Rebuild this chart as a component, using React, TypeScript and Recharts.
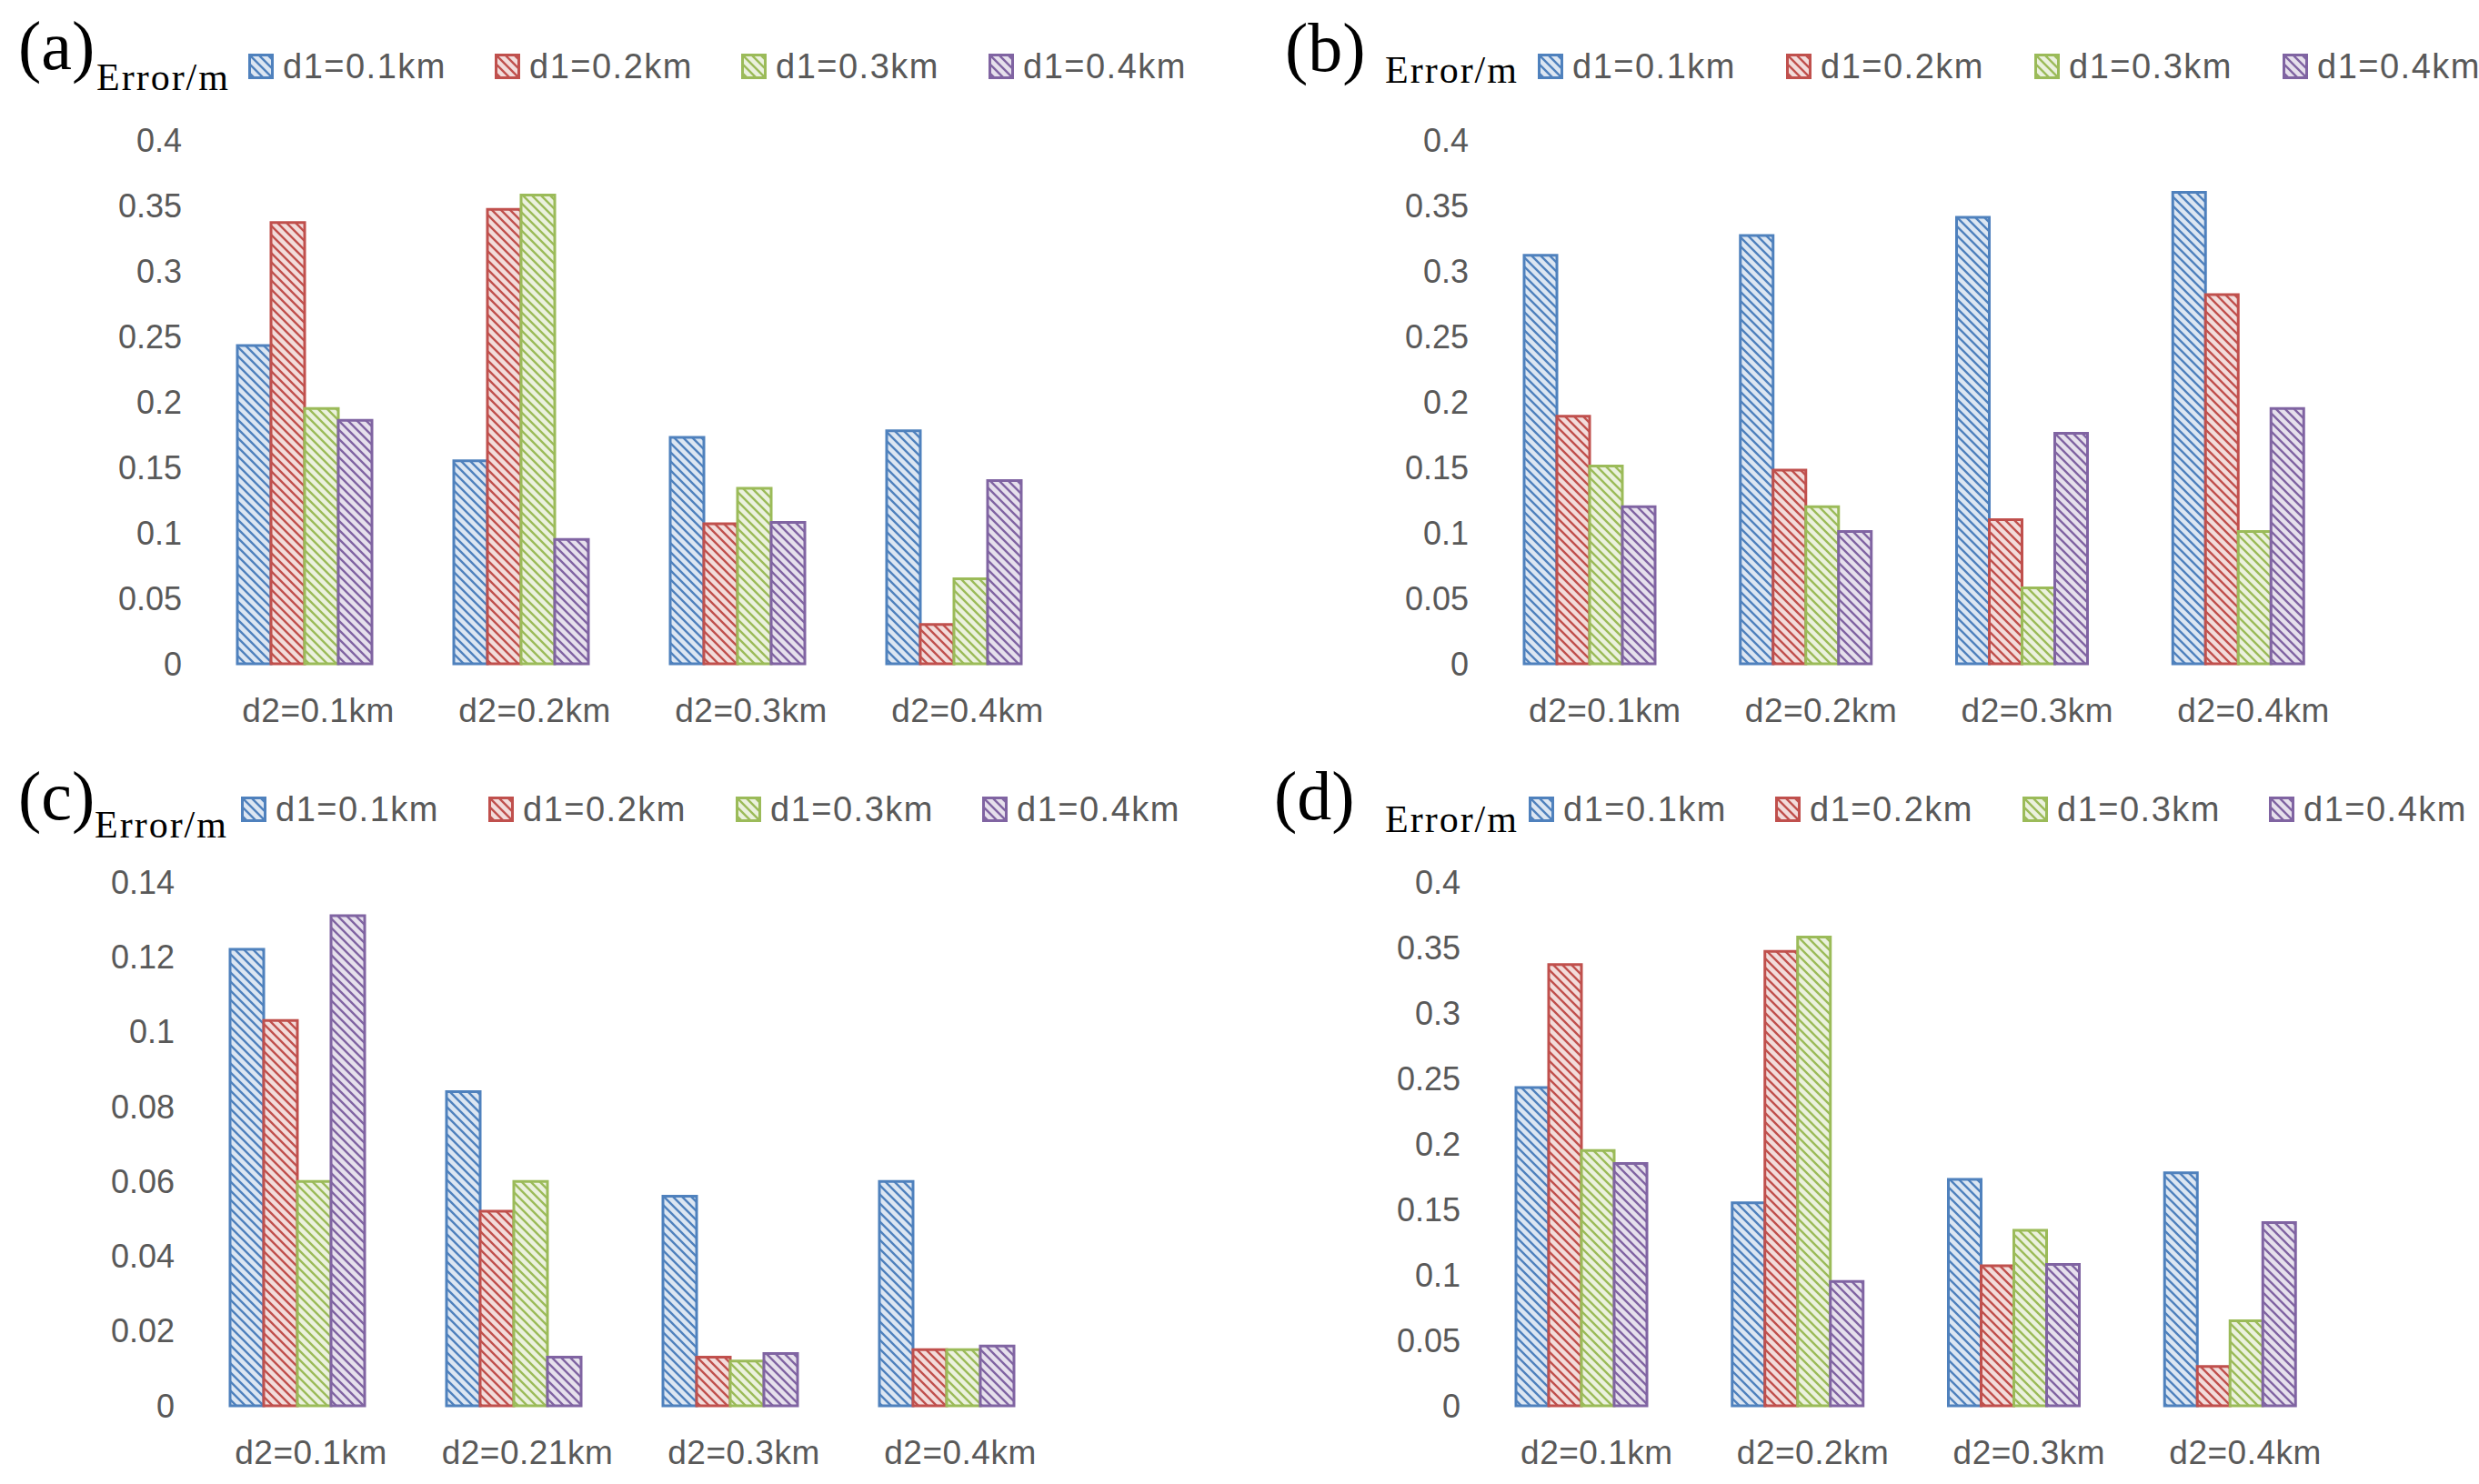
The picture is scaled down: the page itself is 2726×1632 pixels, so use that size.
import { BarChart, Bar, XAxis, YAxis } from 'recharts';

// series (d1) and categories (d2)
const seriesNames = ['d1=0.1km', 'd1=0.2km', 'd1=0.3km', 'd1=0.4km'];
const catsABD = ['d2=0.1km', 'd2=0.2km', 'd2=0.3km', 'd2=0.4km'];
const catsC = ['d2=0.1km', 'd2=0.21km', 'd2=0.3km', 'd2=0.4km'];

// panel (a)
const aD1 = [0.243, 0.155, 0.173, 0.178];
const aD2 = [0.337, 0.347, 0.107, 0.03];
const aD3 = [0.195, 0.358, 0.134, 0.065];
const aD4 = [0.186, 0.095, 0.108, 0.14];

// panel (b)
const bD1 = [0.312, 0.327, 0.341, 0.36];
const bD2 = [0.189, 0.148, 0.11, 0.282];
const bD3 = [0.151, 0.12, 0.058, 0.101];
const bD4 = [0.12, 0.101, 0.176, 0.195];

// panel (c)
const cD1 = [0.122, 0.084, 0.056, 0.06];
const cD2 = [0.103, 0.052, 0.013, 0.015];
const cD3 = [0.06, 0.06, 0.012, 0.015];
const cD4 = [0.131, 0.013, 0.014, 0.016];

// panel (d)
const dD1 = [0.243, 0.155, 0.173, 0.178];
const dD2 = [0.337, 0.347, 0.107, 0.03];
const dD3 = [0.195, 0.358, 0.134, 0.065];
const dD4 = [0.185, 0.095, 0.108, 0.14];

const ticks04 = [0, 0.05, 0.1, 0.15, 0.2, 0.25, 0.3, 0.35, 0.4];
const ticks014 = [0, 0.02, 0.04, 0.06, 0.08, 0.1, 0.12, 0.14];

const COLORS = ['#4F81BD', '#C0504D', '#9BBB59', '#8064A2'];
const TINTS = ['#DCE6F2', '#F2DCDB', '#EBF1DE', '#E6E0EC'];
const GREY = '#595959';
const SANS = '"Liberation Sans", Arial, sans-serif';
const SERIF = '"Liberation Serif", "Times New Roman", serif';

const W = 1363;
const H = 816;

function buildRows(cats: string[], series: number[][]) {
  return cats.map((cat, i) => {
    const row: Record<string, any> = { cat };
    series.forEach((s, k) => {
      row['s' + k] = s[i];
    });
    return row;
  });
}

function Hatch({ id, color, tint }: { id: string; color: string; tint: string }) {
  return (
    <pattern id={id} patternUnits="userSpaceOnUse" width={10} height={10}>
      <rect width={10} height={10} fill={tint} />
      <path d="M0,0 L10,10 M-5,5 L5,15 M5,-5 L15,5" stroke={color} strokeWidth={2.4} />
    </pattern>
  );
}

function LegendItem({ x, y, idx, pid }: { x: number; y: number; idx: number; pid: string }) {
  const id = `${pid}-lg${idx}`;
  return (
    <div style={{ position: 'absolute', left: x, top: y - 20, height: 40, display: 'flex', alignItems: 'center' }}>
      <svg width={28} height={28} style={{ display: 'block' }}>
        <defs>
          <Hatch id={id} color={COLORS[idx]} tint={TINTS[idx]} />
        </defs>
        <rect x={1.5} y={1.5} width={25} height={25} fill={`url(#${id})`} stroke={COLORS[idx]} strokeWidth={3} />
      </svg>
      <span
        style={{
          marginLeft: 10,
          fontFamily: SANS,
          fontSize: 38,
          letterSpacing: 1.5,
          color: GREY,
          whiteSpace: 'nowrap',
        }}
      >
        {seriesNames[idx]}
      </span>
    </div>
  );
}

interface PanelProps {
  pid: string;
  letter: string;
  left: number;
  top: number;
  plotLeft: number;
  plotRight: number;
  rows: Record<string, any>[];
  ticks: number[];
  letterX: number;
  letterY: number;
  unitX: number;
  unitY: number;
  legendX: number[];
  legendY: number;
}

function Panel(p: PanelProps) {
  const yW = 100;
  return (
    <div style={{ position: 'absolute', left: p.left, top: p.top, width: W, height: H }}>
      <BarChart
        width={W}
        height={H}
        data={p.rows}
        margin={{ top: 154, right: W - p.plotRight, bottom: 26, left: p.plotLeft - yW }}
        barCategoryGap={46}
        barGap={0}
      >
        <defs>
          {COLORS.map((c, i) => (
            <Hatch key={i} id={`${p.pid}-h${i}`} color={c} tint={TINTS[i]} />
          ))}
        </defs>
        <XAxis
          dataKey="cat"
          axisLine={false}
          tickLine={false}
          tickSize={0}
          tickMargin={38}
          height={60}
          interval={0}
          tick={{ fill: GREY, fontSize: 37, fontFamily: SANS, dx: 16, letterSpacing: 0.5 }}
        />
        <YAxis
          domain={[0, p.ticks[p.ticks.length - 1]]}
          ticks={p.ticks}
          axisLine={false}
          tickLine={false}
          tickSize={0}
          tickMargin={15}
          width={yW}
          interval={0}
          tick={{ fill: GREY, fontSize: 36, fontFamily: SANS }}
        />
        {COLORS.map((c, i) => (
          <Bar
            key={i}
            dataKey={'s' + i}
            name={seriesNames[i]}
            fill={`url(#${p.pid}-h${i})`}
            stroke={c}
            strokeWidth={3}
            isAnimationActive={false}
          />
        ))}
      </BarChart>
      <div
        style={{
          position: 'absolute',
          left: p.letterX,
          top: p.letterY - 52,
          fontFamily: SERIF,
          fontSize: 76,
          lineHeight: '80px',
          color: '#000',
        }}
      >
        {p.letter}
      </div>
      <div
        style={{
          position: 'absolute',
          left: p.unitX,
          top: p.unitY - 24,
          fontFamily: SERIF,
          fontSize: 42,
          letterSpacing: 2,
          lineHeight: '46px',
          color: '#000',
        }}
      >
        Error/m
      </div>
      {p.legendX.map((x, i) => (
        <LegendItem key={i} x={x} y={p.legendY} idx={i} pid={p.pid} />
      ))}
    </div>
  );
}

export default function App() {
  return (
    <div style={{ position: 'absolute', left: 0, top: 0, width: 2726, height: 1632, background: '#fff' }}>
      <Panel
        pid="pa"
        letter="(a)"
        left={0}
        top={0}
        plotLeft={215}
        plotRight={1167}
        rows={buildRows(catsABD, [aD1, aD2, aD3, aD4])}
        ticks={ticks04}
        letterX={20}
        letterY={62}
        unitX={106}
        unitY={86}
        legendX={[273, 544, 815, 1087]}
        legendY={73}
      />
      <Panel
        pid="pb"
        letter="(b)"
        left={1363}
        top={0}
        plotLeft={267}
        plotRight={1218}
        rows={buildRows(catsABD, [bD1, bD2, bD3, bD4])}
        ticks={ticks04}
        letterX={50}
        letterY={64}
        unitX={160}
        unitY={78}
        legendX={[328, 601, 874, 1147]}
        legendY={73}
      />
      <Panel
        pid="pc"
        letter="(c)"
        left={0}
        top={816}
        plotLeft={207}
        plotRight={1159}
        rows={buildRows(catsC, [cD1, cD2, cD3, cD4])}
        ticks={ticks014}
        letterX={20}
        letterY={71}
        unitX={104}
        unitY={92}
        legendX={[265, 537, 809, 1080]}
        legendY={74}
      />
      <Panel
        pid="pd"
        letter="(d)"
        left={1363}
        top={816}
        plotLeft={258}
        plotRight={1209}
        rows={buildRows(catsABD, [dD1, dD2, dD3, dD4])}
        ticks={ticks04}
        letterX={38}
        letterY={71}
        unitX={160}
        unitY={86}
        legendX={[318, 589, 861, 1132]}
        legendY={74}
      />
    </div>
  );
}
